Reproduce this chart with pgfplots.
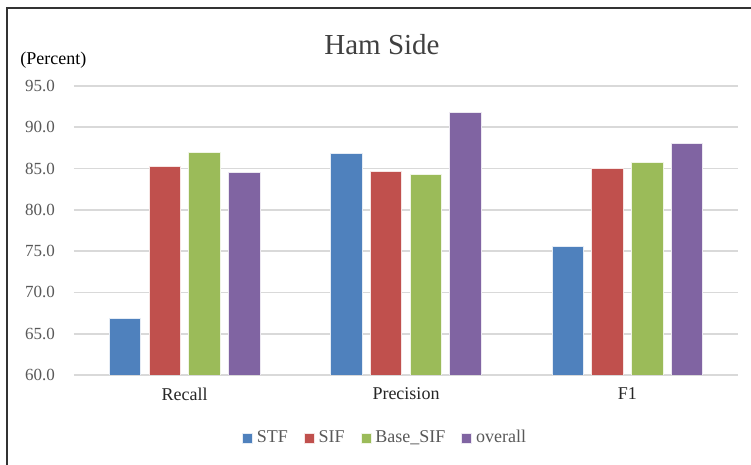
\documentclass[border=0pt]{standalone}
\usepackage{pgfplots}
\pgfplotsset{compat=1.18}
\usepackage{fontspec}
\setmainfont{Liberation Serif}
\definecolor{cSTF}{HTML}{4F81BD}
\definecolor{cSIF}{HTML}{C0504D}
\definecolor{cBase}{HTML}{9BBB59}
\definecolor{cAll}{HTML}{8064A2}
\definecolor{gridc}{HTML}{D9D9D9}
\definecolor{tickc}{HTML}{595959}
\begin{document}
\begin{tikzpicture}
\path[use as bounding box] (0,0) rectangle (375.5pt,232.5pt);
\fill[white] (0,0) rectangle (375.5pt,232.5pt);
\draw[black!80, line width=1pt] (3.5pt,0) -- (3.5pt,228.5pt) -- (375.5pt,228.5pt);
\begin{axis}[
  at={(37pt,45pt)}, anchor=south west,
  scale only axis, width=332pt, height=144.5pt,
  ymin=60, ymax=95, ytick={60,65,...,95},
  xmin=-0.5, xmax=2.5,
  xtick={0,1,2}, xticklabels={Recall,Precision,F1},
  ymajorgrids, major grid style={draw=gridc, line width=0.8pt},
  axis line style={draw=none},
  major tick length=0pt,
  /pgf/number format/assume math mode=true,
  /pgf/number format/.cd, fixed, fixed zerofill, precision=1, /pgfplots/.cd,
  yticklabel style={font=\fontsize{8.5pt}{10pt}\selectfont, text=tickc, xshift=-6pt},
  xticklabel style={font=\fontsize{9pt}{10pt}\selectfont, text=black!85, yshift=-3pt},
  ybar, bar width=0.142,
  legend style={at={(0.47,-0.218)}, anchor=center, draw=none, legend columns=4,
    font=\fontsize{9pt}{10pt}\selectfont, text=tickc,
    /tikz/every even column/.append style={column sep=6pt}},
  legend image code/.code={\fill[#1] (0pt,-2.5pt) rectangle (5pt,2.5pt);},
]
\addplot[fill=cSTF, draw=white!85!cSTF, line width=0.4pt, bar shift=-0.269] coordinates {(0,66.8) (1,86.8) (2,75.6)};
\addplot[fill=cSIF, draw=white!85!cSIF, line width=0.4pt, bar shift=-0.0897] coordinates {(0,85.3) (1,84.7) (2,85.0)};
\addplot[fill=cBase, draw=white!85!cBase, line width=0.4pt, bar shift=0.0897] coordinates {(0,87.0) (1,84.3) (2,85.7)};
\addplot[fill=cAll, draw=white!85!cAll, line width=0.4pt, bar shift=0.269] coordinates {(0,84.5) (1,91.8) (2,88.0)};
\legend{STF,SIF,Base\_SIF,overall}
\end{axis}
\node[font=\fontsize{14.5pt}{16pt}\selectfont, text=black!75] at (191pt,210pt) {Ham Side};
\node[font=\fontsize{9pt}{10pt}\selectfont, anchor=west, inner sep=0pt] at (10pt,202.5pt) {(Percent)};
\end{tikzpicture}
\end{document}
